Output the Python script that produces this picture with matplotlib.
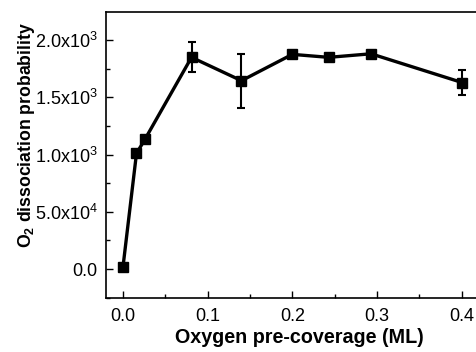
import numpy as np
import matplotlib
matplotlib.use("Agg")
import matplotlib.pyplot as plt
from matplotlib.ticker import MultipleLocator, FixedLocator

plt.rcParams['font.family'] = ['Liberation Sans', 'DejaVu Sans']
plt.rcParams['mathtext.fontset'] = 'custom'
plt.rcParams['mathtext.rm'] = 'Liberation Sans'
plt.rcParams['mathtext.bf'] = 'Liberation Sans:bold'
plt.rcParams['mathtext.default'] = 'rm'

# coverage (ML) and dissociation probability (in 1e-3)
coverage = [0.0, 0.016, 0.026, 0.081, 0.140, 0.200, 0.243, 0.293, 0.401]
prob = [0.015, 1.01, 1.133, 1.849, 1.645, 1.875, 1.849, 1.88, 1.628]
err = [0, 0, 0, 0.13, 0.235, 0, 0, 0, 0.11]

ytick_vals = [0.0, 0.5, 1.0, 1.5, 2.0]
ytick_labels = ["0.0", "5.0x10$^{4}$", "1.0x10$^{3}$", "1.5x10$^{3}$", "2.0x10$^{3}$"]

fig = plt.figure(figsize=(4.76, 3.52), dpi=100)
ax = fig.add_axes([0.2227, 0.1534, 0.836, 0.8125])

ax.errorbar(coverage, prob, yerr=err, color='black', lw=2.4, marker='s', ms=7.5,
            capsize=3, capthick=1.5, elinewidth=1.5)

ax.set_xlim(-0.02, 0.45)
ax.set_ylim(-0.253, 2.245)
ax.xaxis.set_major_locator(MultipleLocator(0.1))
ax.xaxis.set_minor_locator(MultipleLocator(0.05))
ax.yaxis.set_major_locator(FixedLocator(ytick_vals))
ax.yaxis.set_minor_locator(MultipleLocator(0.25))
ax.set_yticklabels(ytick_labels)
ax.tick_params(which='both', direction='in', labelsize=13, width=1)
ax.tick_params(which='major', length=5)
ax.tick_params(which='minor', length=3)
ax.tick_params(axis='x', pad=7)
ax.tick_params(axis='y', pad=6)
for s in ax.spines.values():
    s.set_linewidth(1.2)

ax.set_xlabel("Oxygen pre-coverage (ML)", fontsize=14.2, fontweight='bold')
ax.xaxis.set_label_coords(0.485, -0.105)
ax.set_ylabel(r"O$_\mathbf{2}$ dissociation probability", fontsize=12.7, fontweight='bold')
ax.yaxis.label.set_va('center')
ax.yaxis.set_label_coords(-0.2, 0.57)

fig.savefig("out.png", dpi=100)
